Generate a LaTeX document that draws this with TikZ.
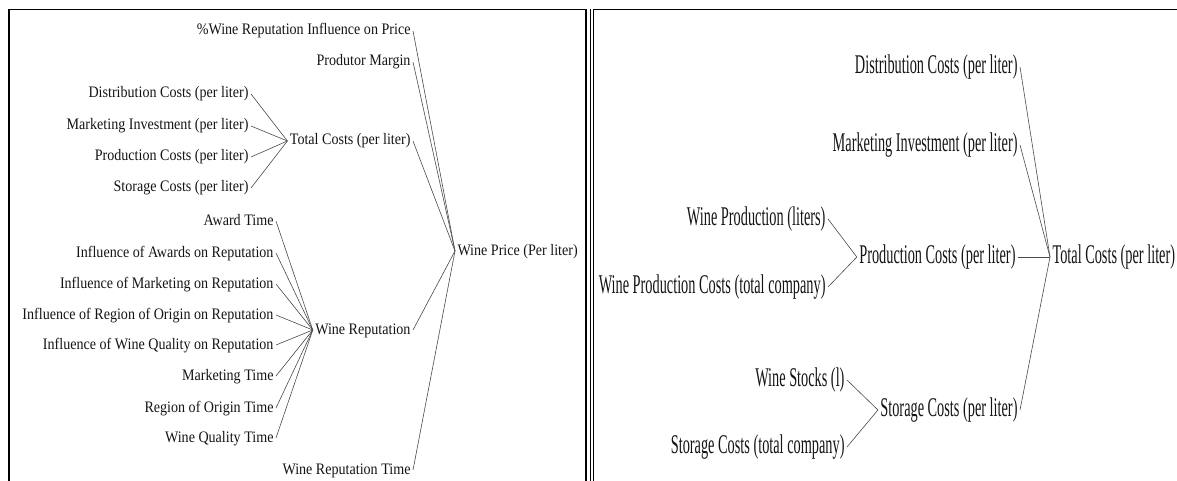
\documentclass[tikz,border=0pt]{standalone}
\usepackage{fontspec}
\newfontfamily\treefont[FakeStretch=0.88]{Liberation Serif}
\newfontfamily\narrowfont[FakeStretch=0.53]{Liberation Serif}
\definecolor{ink}{HTML}{141414}
\definecolor{linkgray}{HTML}{4A4A4A}

\begin{document}
\begin{tikzpicture}[x=1pt,y=-1pt,
  lbl/.style={inner sep=0pt, outer sep=2.5pt, text=ink,
    font=\treefont\fontsize{16}{19}\selectfont, text height=11.5pt, text depth=3.5pt},
  rlbl/.style={inner sep=0pt, outer sep=2.5pt, text=ink,
    font=\narrowfont\fontsize{27}{32}\selectfont, text height=19pt, text depth=6pt},
  src/.style={lbl, anchor=east},
  rsrc/.style={rlbl, anchor=east},
  link/.style={draw=linkgray, line width=0.6pt},
  panel/.style={draw=black, line width=1.8pt},
  thinpanel/.style={draw=black, line width=0.9pt}]

\useasboundingbox (0,0) rectangle (1177,481);

% panel frames (open at the bottom)
\draw[panel] (9,482) -- (9,9.5) -- (586,9.5) -- (586,482);
\draw[thinpanel] (590.5,482) -- (590.5,9);
\draw[panel] (593.5,482) -- (593.5,9.5) -- (1178,9.5);

% ---- causes tree of Wine Price ----
\node[src] (pct)    at (413,31)  {\%Wine Reputation Influence on Price};
\node[src] (margin) at (413,62)  {Produtor Margin};
\node[src] (totL)   at (413,141) {Total Costs (per liter)};
\node[src] (wrep)   at (413,330) {Wine Reputation};
\node[src] (wrT)    at (413,470) {Wine Reputation Time};
\node[lbl, anchor=west] (price) at (455,251) {Wine Price (Per liter)};

\node[src] (dist)  at (251,94)  {Distribution Costs (per liter)};
\node[src] (mkt)   at (251,126) {Marketing Investment (per liter)};
\node[src] (prod)  at (251,157) {Production Costs (per liter)};
\node[src] (stor)  at (251,188) {Storage Costs (per liter)};

\node[src] (award) at (276,221) {Award Time};
\node[src] (infA)  at (276,253) {Influence of Awards on Reputation};
\node[src] (infM)  at (276,284) {Influence of Marketing on Reputation};
\node[src] (infR)  at (276,315) {Influence of Region of Origin on Reputation};
\node[src] (infW)  at (276,345) {Influence of Wine Quality on Reputation};
\node[src] (mktT)  at (276,376) {Marketing Time};
\node[src] (regT)  at (276,408) {Region of Origin Time};
\node[src] (wqT)   at (276,438) {Wine Quality Time};

\foreach \s in {pct,margin,totL,wrep,wrT}
  \draw[link] (\s.east) -- (price.west);
\foreach \s in {dist,mkt,prod,stor}
  \draw[link] (\s.east) -- (totL.west);
\foreach \s in {award,infA,infM,infR,infW,mktT,regT,wqT}
  \draw[link] (\s.east) -- (wrep.west);

% ---- causes tree of Total Costs ----
\node[rsrc] (dist2)  at (1020,67)  {Distribution Costs (per liter)};
\node[rsrc] (mkt2)   at (1020,145) {Marketing Investment (per liter)};
\node[rsrc] (prod2)  at (1018,257) {Production Costs (per liter)};
\node[rsrc] (stor2)  at (1020,410) {Storage Costs (per liter)};
\node[rlbl, anchor=west] (tot2) at (1050,257) {Total Costs (per liter)};

\node[rsrc] (wprod)  at (828,219) {Wine Production (liters)};
\node[rsrc] (wpc)    at (828,287) {Wine Production Costs (total company)};
\node[rsrc] (stocks) at (847,380) {Wine Stocks (l)};
\node[rsrc] (sctot)  at (847,447) {Storage Costs (total company)};

\foreach \s in {dist2,mkt2,prod2,stor2}
  \draw[link] (\s.east) -- (tot2.west);
\foreach \s in {wprod,wpc}
  \draw[link] (\s.east) -- (prod2.west);
\foreach \s in {stocks,sctot}
  \draw[link] (\s.east) -- (stor2.west);

\end{tikzpicture}
\end{document}
